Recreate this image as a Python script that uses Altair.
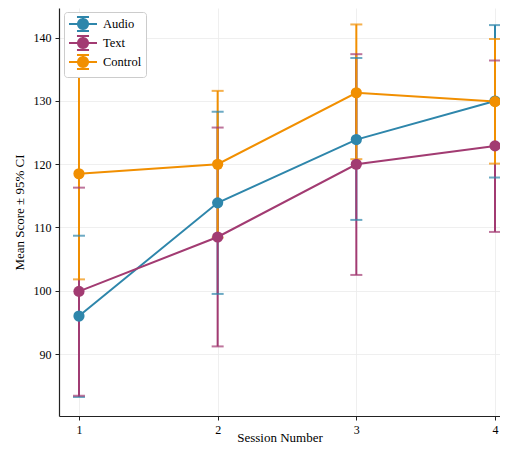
import math
import altair as alt
import pandas as pd

sessions = [1, 2, 3, 4]
series_names = ["Audio", "Text", "Control"]
series_colors = ["#2E86AB", "#A23B72", "#F18F01"]

audio_mean = [96.0, 113.9, 123.9, 130.0]
audio_lo = [83.2, 99.5, 111.2, 117.9]
audio_hi = [108.7, 128.3, 136.8, 142.0]

text_mean = [99.9, 108.5, 120.0, 122.9]
text_lo = [83.4, 91.2, 102.5, 109.3]
text_hi = [116.3, 125.8, 137.4, 136.4]

control_mean = [118.5, 120.0, 131.3, 129.9]
control_lo = [101.8, 108.4, 120.8, 120.1]
control_hi = [135.1, 131.6, 142.1, 139.8]

rows = []
for name, m, lo, hi in [
    ("Audio", audio_mean, audio_lo, audio_hi),
    ("Text", text_mean, text_lo, text_hi),
    ("Control", control_mean, control_lo, control_hi),
]:
    for i, s in enumerate(sessions):
        rows.append({"session": s, "group": name, "mean": m[i], "lo": lo[i], "hi": hi[i],
                     "order": series_names.index(name)})
df = pd.DataFrame(rows)

FONT = "Liberation Serif"
xscale = alt.Scale(domain=[0.856, 4.036], nice=False, zero=False)
yscale = alt.Scale(domain=[80.2, 144.7], nice=False, zero=False)
cscale = alt.Scale(domain=series_names, range=series_colors)

# legend glyph: line + errorbar + circle (polygon approximation)
circ = []
for k in range(24):
    a = 2 * math.pi * k / 24
    circ.append(f"{1 + 0.72 * math.cos(a):.3f},{0.72 * math.sin(a):.3f}")
legend_path = ("M-1,0L3,0M1,-1L1,1M0.14,-1L1.86,-1M0.14,1L1.86,1"
               "M" + "L".join(circ) + "Z")
leg = alt.Legend(title=None, orient="none", legendX=5, legendY=4,
                 symbolType=legend_path, symbolSize=196, symbolOpacity=1,
                 symbolStrokeWidth=2, labelOffset=19, rowPadding=-7.5,
                 labelFont=FONT, labelFontSize=12.5, labelColor="#000",
                 padding=4, strokeColor="#cccccc", fillColor="#ffffff",
                 cornerRadius=3)
color = alt.Color("group:N", scale=cscale, legend=leg)

xenc = alt.X("session:Q", scale=xscale,
             axis=alt.Axis(values=sessions, format="d", title="Session Number",
                           titleBaseline="alphabetic", titleY=25))
base = alt.Chart(df)

rules = base.mark_rule(strokeWidth=2).encode(
    x=xenc,
    y=alt.Y("lo:Q", scale=yscale,
            axis=alt.Axis(values=[90, 100, 110, 120, 130, 140], title="Mean Score ± 95% CI")),
    y2="hi:Q",
    color=color,
    order="order:Q",
)
caps_lo = base.mark_tick(orient="horizontal", size=12, thickness=2).encode(
    x=xenc, y=alt.Y("lo:Q", scale=yscale), color=color, order="order:Q",
)
caps_hi = base.mark_tick(orient="horizontal", size=12, thickness=2).encode(
    x=xenc, y=alt.Y("hi:Q", scale=yscale), color=color, order="order:Q",
)
lines = base.mark_line(strokeWidth=2).encode(
    x=xenc, y=alt.Y("mean:Q", scale=yscale), color=color,
    detail="group:N", order="session:Q",
)
points = base.mark_point(filled=True, size=125, opacity=1).encode(
    x=xenc, y=alt.Y("mean:Q", scale=yscale), color=color, order="order:Q",
)

chart = alt.layer(rules, caps_lo, caps_hi, lines, points).properties(
    width=441, height=408,
    autosize=alt.AutoSizeParams(type="none"),
    padding={"left": 51, "top": 0, "right": 0, "bottom": 28},
).configure_view(stroke=None).configure_axis(
    labelFont=FONT, titleFont=FONT, labelFontSize=12, titleFontSize=13,
    labelColor="#000", titleColor="#000", titleFontWeight="normal",
    domainColor="#222", domainWidth=1.2, tickColor="#222", tickSize=4,
    gridColor="#ebebeb", gridWidth=0.8, labelPadding=4,
).configure_axisY(titlePadding=7).configure_legend(
    labelFont=FONT, labelFontSize=12.5, labelColor="#000",
)

chart.save("out.html", embed_options={"renderer": "svg", "actions": False})
